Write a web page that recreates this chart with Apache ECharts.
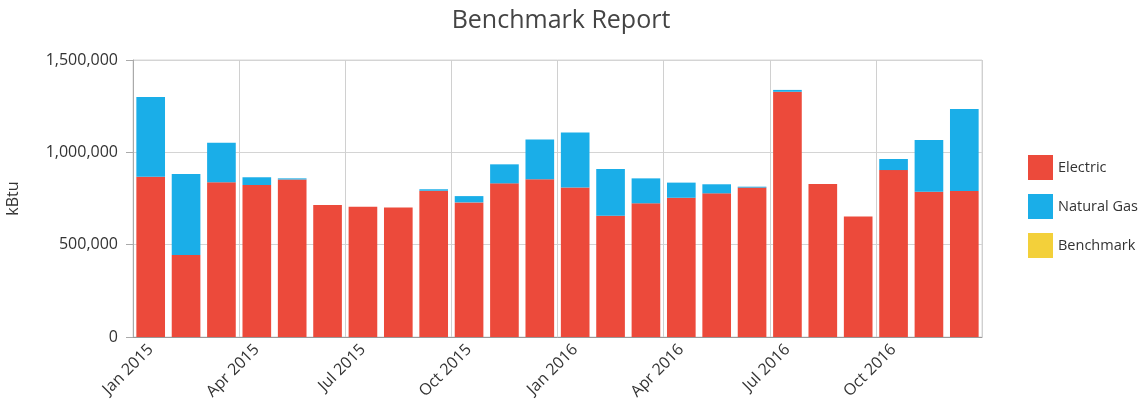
<!DOCTYPE html>
<html>
<head>
<meta charset="utf-8">
<script src="https://cdn.jsdelivr.net/npm/echarts@6/dist/echarts.min.js"></script>
<style>
  html, body { margin: 0; padding: 0; background: #fff; }
  #chart { width: 1142px; height: 405px; }
</style>
</head>
<body>
<div id="chart"></div>
<script>
// Monthly energy use, kBtu
const months = [
  'Jan 2015', 'Feb 2015', 'Mar 2015', 'Apr 2015', 'May 2015', 'Jun 2015',
  'Jul 2015', 'Aug 2015', 'Sep 2015', 'Oct 2015', 'Nov 2015', 'Dec 2015',
  'Jan 2016', 'Feb 2016', 'Mar 2016', 'Apr 2016', 'May 2016', 'Jun 2016',
  'Jul 2016', 'Aug 2016', 'Sep 2016', 'Oct 2016', 'Nov 2016', 'Dec 2016'
];
const electric = [
  868000, 444000, 838000, 823000, 853000, 715000,
  706000, 701000, 792000, 729000, 832000, 854000,
  809000, 657000, 724000, 754000, 778000, 809000,
  1328000, 828000, 652000, 904000, 787000, 791000
];
const naturalGas = [
  432000, 439000, 214000, 42000, 6000, 0,
  0, 0, 8000, 34000, 103000, 216000,
  299000, 253000, 135000, 82000, 49000, 5000,
  10000, 0, 0, 60000, 280000, 444000
];
const benchmark = [];
const yTicks = { min: 0, max: 1500000, interval: 500000 };

const COLORS = { electric: '#EC4A3B', gas: '#1AAEE8', bench: '#F3D03A' };
const FONT = '"Open Sans", "Noto Sans", sans-serif';

const chart = echarts.init(document.getElementById('chart'), null, { renderer: 'canvas' });
chart.setOption({
  animation: false,
  title: {
    text: 'Benchmark Report',
    left: 556, top: 3, textAlign: 'center',
    textStyle: { fontFamily: FONT, fontSize: 25, fontWeight: 'normal', color: '#444' }
  },
  legend: {
    orient: 'vertical',
    left: 1023, top: 150,
    itemWidth: 25, itemHeight: 25, itemGap: 14,
    icon: 'rect',
    textStyle: { fontFamily: FONT, fontSize: 14.5, color: '#333' },
    data: ['Electric', 'Natural Gas', 'Benchmark']
  },
  grid: {
    left: 133, right: 160, top: 60, bottom: 68,
    outerBoundsMode: 'none', containLabel: false,
    show: true, borderColor: '#d8d8d8', borderWidth: 1
  },
  xAxis: {
    type: 'category',
    data: months,
    axisLine: { lineStyle: { color: '#999' } },
    axisTick: { show: false, interval: 2 },
    splitLine: { show: true, interval: 2, lineStyle: { color: '#d0d0d0' } },
    axisLabel: {
      interval: 2, rotate: 45, margin: 10,
      fontFamily: FONT, fontSize: 16, color: '#333'
    }
  },
  yAxis: {
    type: 'value',
    min: yTicks.min, max: yTicks.max, interval: yTicks.interval,
    name: 'kBtu', nameLocation: 'middle', nameGap: 112, nameRotate: 90,
    nameTextStyle: { fontFamily: FONT, fontSize: 16, color: '#333' },
    axisLine: { show: true, lineStyle: { color: '#aaa' } },
    axisTick: { show: true, length: 7, lineStyle: { color: '#aaa' } },
    splitLine: { lineStyle: { color: '#d4d4d4' } },
    axisLabel: {
      margin: 15, fontFamily: FONT, fontSize: 16, color: '#333',
      formatter: v => v.toLocaleString('en-US')
    }
  },
  series: [
    {
      name: 'Electric', type: 'bar', stack: 'energy',
      data: electric, barCategoryGap: '19%',
      itemStyle: { color: COLORS.electric }
    },
    {
      name: 'Natural Gas', type: 'bar', stack: 'energy',
      data: naturalGas, barCategoryGap: '19%',
      itemStyle: { color: COLORS.gas }
    },
    {
      name: 'Benchmark', type: 'line',
      data: benchmark,
      itemStyle: { color: COLORS.bench }, lineStyle: { color: COLORS.bench }
    }
  ]
});
</script>
</body>
</html>
